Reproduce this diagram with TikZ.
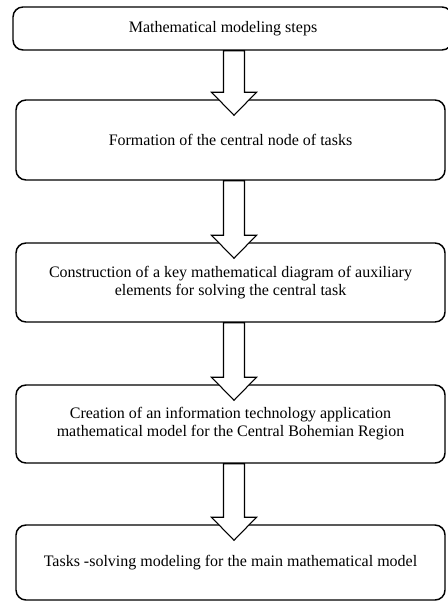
\documentclass[tikz,border=0pt]{standalone}
\usepackage{fontspec}
\setmainfont{Liberation Serif}
\usetikzlibrary{calc}

\tikzset{
  stepbox/.style={draw=black, line width=1.1pt, rounded corners=7.5pt, fill=white,
    align=center, inner sep=0pt, minimum width=321.75pt,
    font=\fontsize{12pt}{13.5pt}\selectfont},
  steptext/.style={align=center, inner sep=0pt, font=\fontsize{12pt}{13.5pt}\selectfont},
  blockarrow/.style={draw=black, line width=0.8pt, fill=white, line join=miter},
}

% hollow block arrow from the bottom of #1 into the top of #2
\newcommand\blockarrow[2]{%
  \draw[blockarrow] let \p1=(#1.south), \p2=(#2.north) in
    ({\x2-5.25pt},{\y1}) -- ({\x2-5.25pt},{\y2+5.25pt}) -- ({\x2-14.25pt},{\y2+5.25pt})
    -- ({\x2+2.625pt},{\y2-12pt}) -- ({\x2+19.5pt},{\y2+5.25pt})
    -- ({\x2+10.5pt},{\y2+5.25pt}) -- ({\x2+10.5pt},{\y1}) -- cycle;%
}

\begin{document}
\begin{tikzpicture}[x=0.75pt,y=-0.75pt]
\useasboundingbox (0,0) rectangle (447,602);

% heading box runs past the right edge of the page
\node[stepbox, minimum width=329.25pt, minimum height=32.25pt] (title) at (232.5,28.5) {};
\node[steptext] (titletext) at (223,28.5) {Mathematical modeling steps};

\node[stepbox, minimum height=60pt] (s1) at (230.5,140)
  {Formation of the central node of tasks};
\node[stepbox, minimum height=59.25pt] (s2) at (230.5,282.5)
  {Construction of a key mathematical diagram of auxiliary\\elements for solving the central task};
\node[stepbox, minimum height=58.5pt] (s3) at (230.5,424)
  {Creation of an information technology application\\mathematical model for the Central Bohemian Region};
\node[stepbox, minimum height=56.25pt] (s4) at (230.5,562.5)
  {Tasks -solving modeling for the main mathematical model};

\blockarrow{title}{s1}
\blockarrow{s1}{s2}
\blockarrow{s2}{s3}
\blockarrow{s3}{s4}
\end{tikzpicture}
\end{document}
